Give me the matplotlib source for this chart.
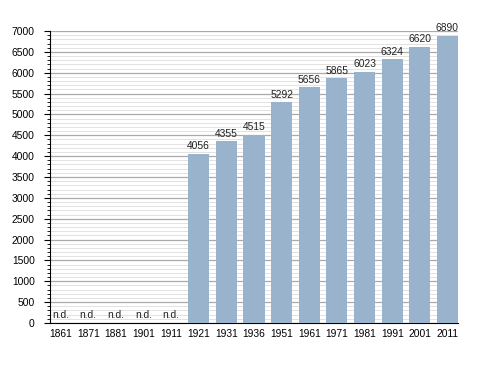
import matplotlib
matplotlib.use("Agg")
import matplotlib.pyplot as plt
from matplotlib.ticker import MultipleLocator

years = ["1861", "1871", "1881", "1901", "1911", "1921", "1931", "1936",
         "1951", "1961", "1971", "1981", "1991", "2001", "2011"]
population = [None, None, None, None, None, 4056, 4355, 4515,
              5292, 5656, 5865, 6023, 6324, 6620, 6890]

plt.rcParams['font.family'] = ['Liberation Sans', 'DejaVu Sans']
fs = 7.4
fig = plt.figure(figsize=(4.88, 3.73), dpi=100)
ax = fig.add_axes([50/488, 1 - 323/373, 408/488, 292/373])

x = list(range(len(years)))
for i, v in enumerate(population):
    if v is None:
        ax.text(i, 60, "n.d.", ha="center", va="bottom", fontsize=fs, color="#222222")
    else:
        ax.bar(i, v, width=0.76, color="#9ab3cc", zorder=3)
        ax.text(i, v + 60, str(v), ha="center", va="bottom", fontsize=fs, color="#222222")

ax.set_xlim(-0.38, 14.38)
ax.set_ylim(0, 7000)
ax.set_xticks(x)
ax.set_xticklabels(years)
ax.yaxis.set_major_locator(MultipleLocator(500))
ax.yaxis.set_minor_locator(MultipleLocator(100))
ax.grid(axis="y", which="major", color="#aaaaaa", linewidth=0.9, zorder=0)
ax.grid(axis="y", which="minor", color="#e2e2e2", linewidth=0.7, zorder=0)
ax.set_axisbelow(True)
for s in ["top", "right"]:
    ax.spines[s].set_visible(False)
ax.spines["left"].set_color("black")
ax.spines["bottom"].set_color("black")
ax.tick_params(axis="y", which="major", length=4, labelsize=fs, pad=7)
ax.tick_params(axis="y", which="minor", length=2)
ax.tick_params(axis="x", length=0, labelsize=fs, pad=4)
fig.savefig("out.png", dpi=100)
